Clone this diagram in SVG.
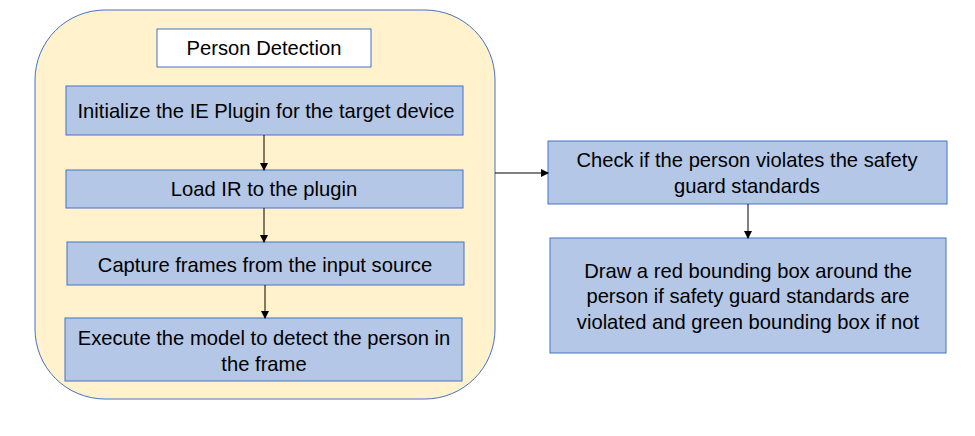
<svg xmlns="http://www.w3.org/2000/svg" width="975" height="436" viewBox="0 0 975 436">
<style>
.box{fill:#B4C7E7;stroke:#4472C4;stroke-width:1}
.t{font-family:"Liberation Sans",Arial,sans-serif;font-size:20.2px;fill:#000;text-anchor:middle;dominant-baseline:central}
.c{stroke:#000;stroke-width:1;fill:none}
</style>
<defs>
<marker id="ah" markerWidth="8" markerHeight="8" refX="7" refY="4" orient="auto" markerUnits="userSpaceOnUse">
<path d="M0,0 L8,4 L0,8 z" fill="#000"/>
</marker>
</defs>
<rect width="975" height="436" fill="#fff"/>
<g id="container">
<rect x="35" y="10" width="460" height="389" rx="70" ry="70" fill="#FFF2CC" stroke="#4472C4" stroke-width="1"/>
</g>
<g id="title">
<rect x="157" y="29" width="214" height="38" fill="#fff" stroke="#4472C4" stroke-width="1"/>
<text class="t" x="264" y="48">Person Detection</text>
</g>
<g id="n1">
<rect class="box" x="66" y="86" width="397" height="49"/>
<text class="t" x="266" y="111">Initialize the IE Plugin for the target device</text>
</g>
<g id="n2">
<rect class="box" x="66" y="170" width="397" height="38"/>
<text class="t" x="264" y="189">Load IR to the plugin</text>
</g>
<g id="n3">
<rect class="box" x="67" y="242" width="397" height="43"/>
<text class="t" x="265" y="265">Capture frames from the input source</text>
</g>
<g id="n4">
<rect class="box" x="65" y="318" width="397" height="63"/>
<text class="t" x="264" y="338">Execute the model to detect the person in</text>
<text class="t" x="264" y="364">the frame</text>
</g>
<g id="n5">
<rect class="box" x="548" y="141" width="399" height="63"/>
<text class="t" x="747" y="160">Check if the person violates the safety</text>
<text class="t" x="747" y="186">guard standards</text>
</g>
<g id="n6">
<rect class="box" x="550" y="238" width="396" height="115"/>
<text class="t" x="748" y="271">Draw a red bounding box around the</text>
<text class="t" x="748" y="296">person if safety guard standards are</text>
<text class="t" x="748" y="322">violated and green bounding box if not</text>
</g>
<g id="connectors">
<line class="c" x1="264" y1="135" x2="264" y2="170" marker-end="url(#ah)"/>
<line class="c" x1="264" y1="208" x2="264" y2="242" marker-end="url(#ah)"/>
<line class="c" x1="265" y1="285" x2="265" y2="318" marker-end="url(#ah)"/>
<line class="c" x1="495" y1="173" x2="548" y2="173" marker-end="url(#ah)"/>
<line class="c" x1="748" y1="204" x2="748" y2="238" marker-end="url(#ah)"/>
</g>
</svg>
